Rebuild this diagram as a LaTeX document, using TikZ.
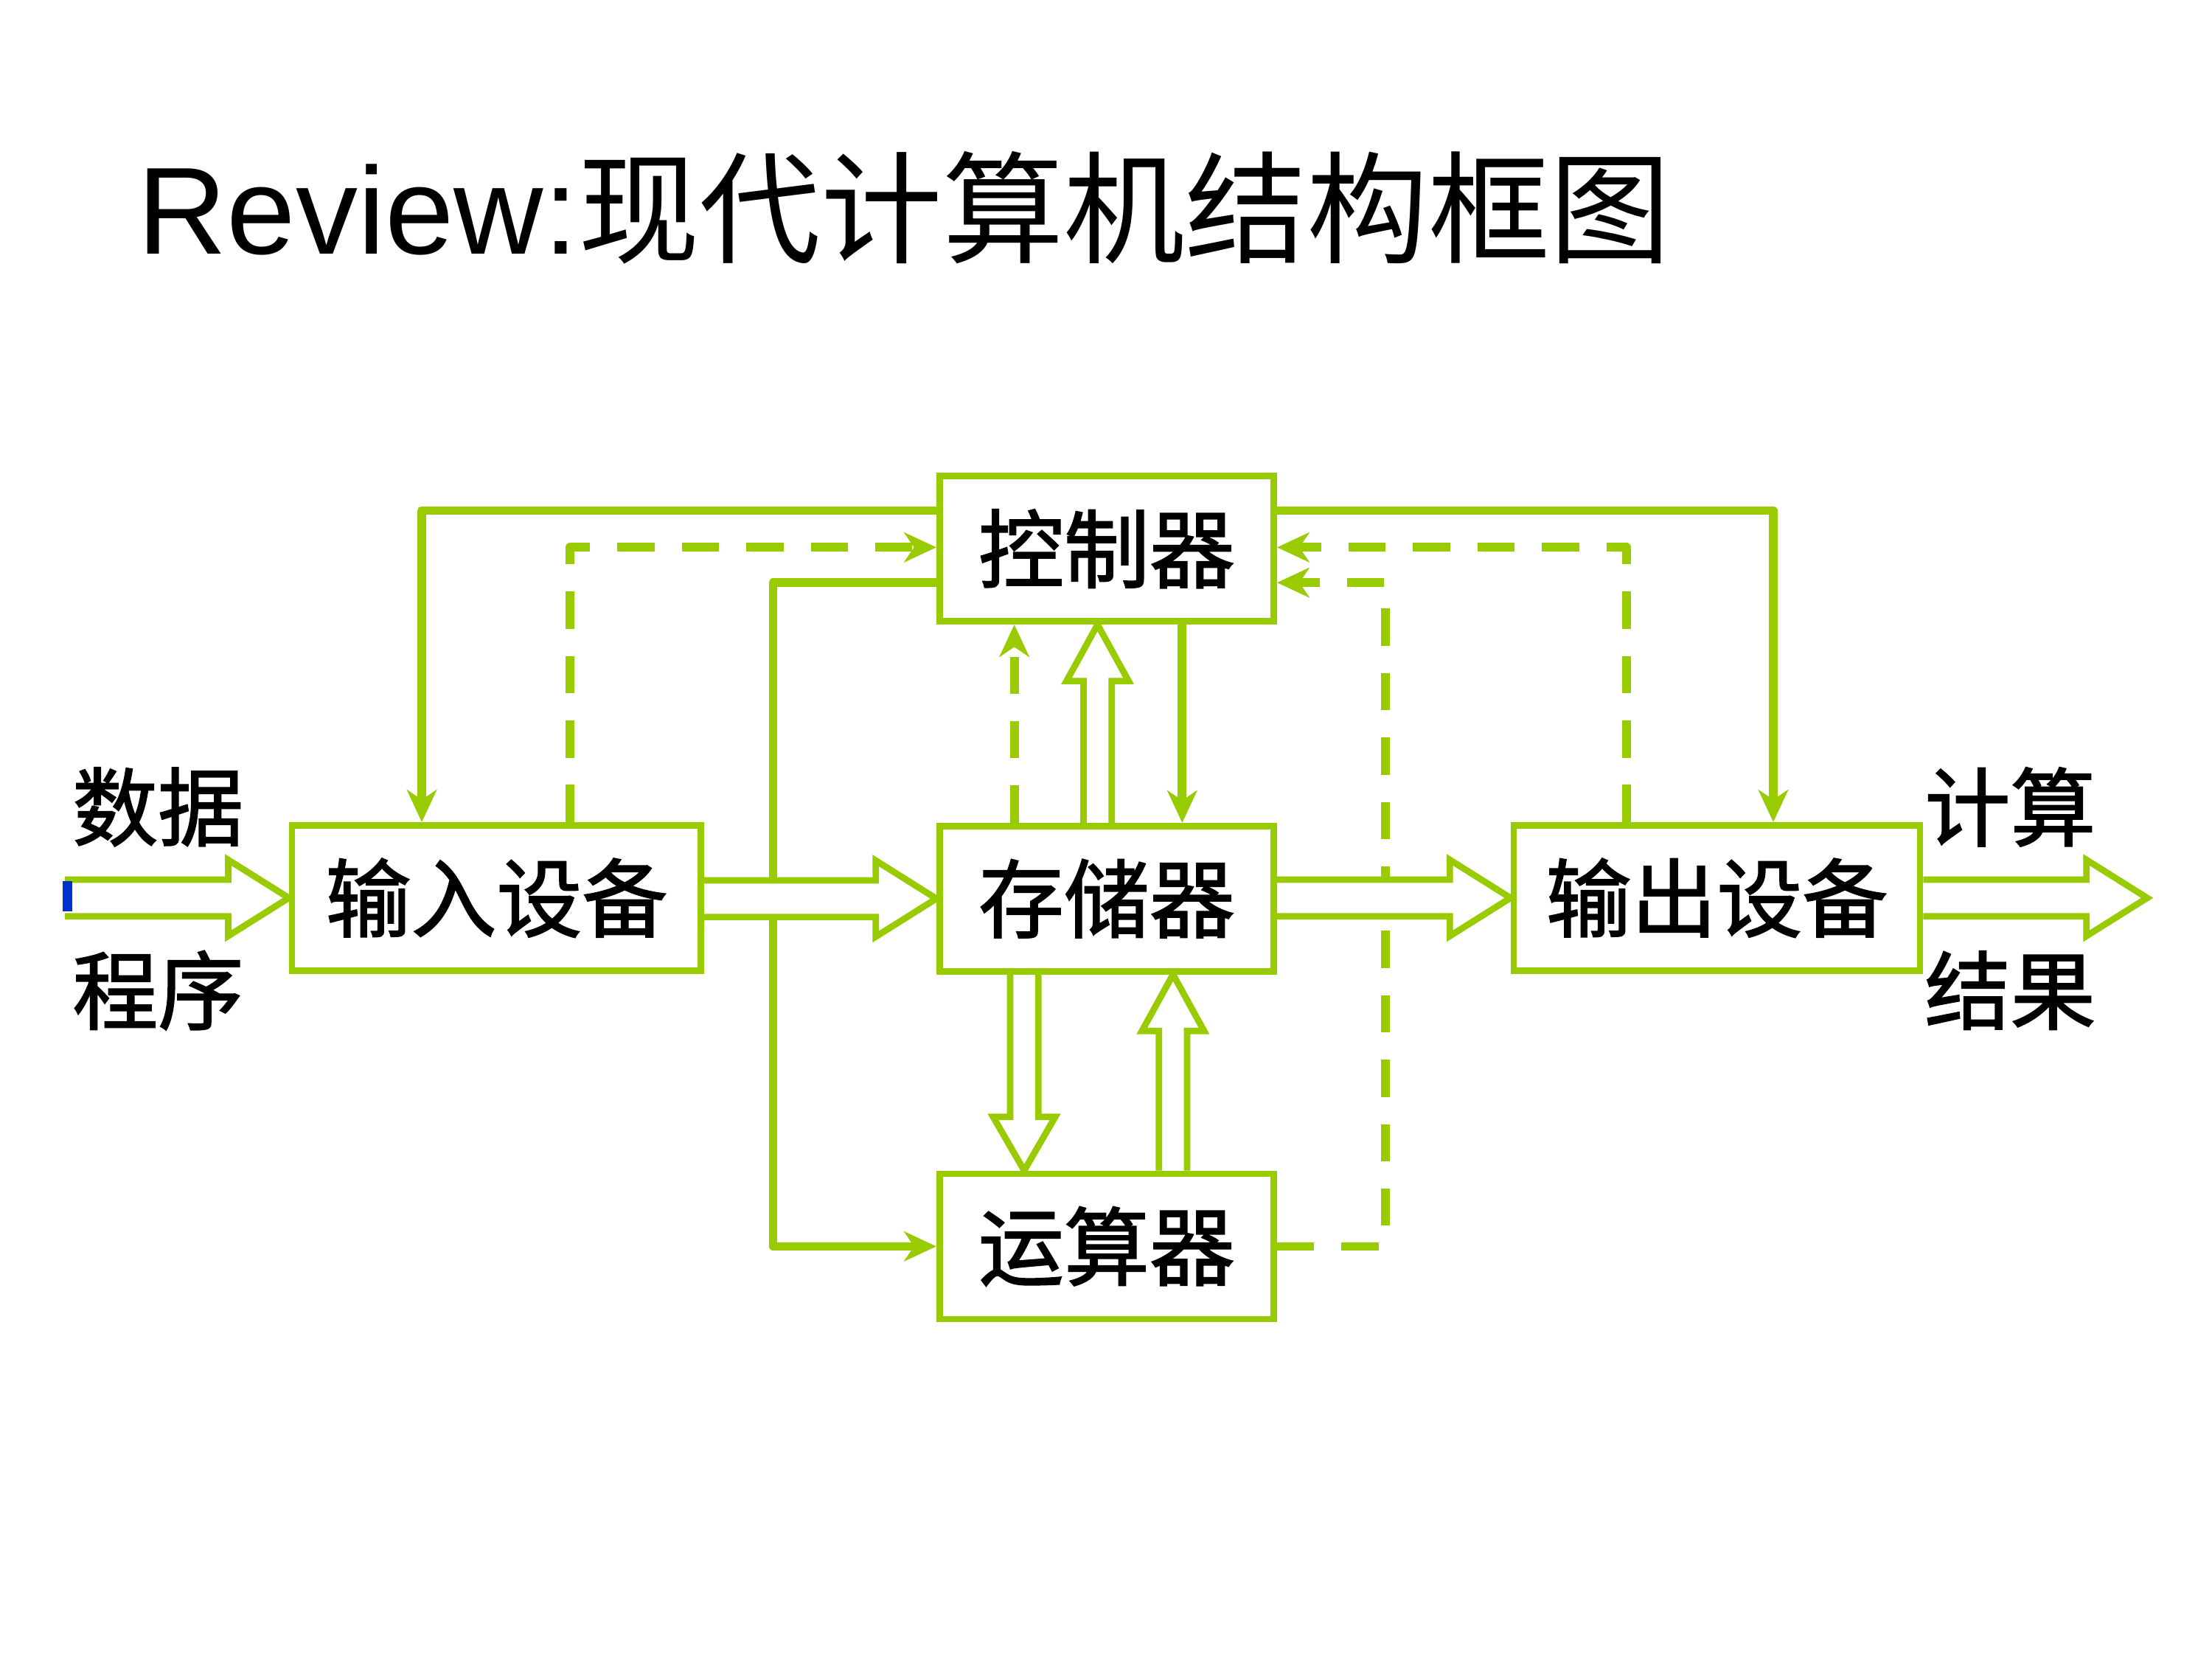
\documentclass[tikz,border=0pt]{standalone}
\usepackage{fontspec}
\newfontfamily\cjk{Noto Sans CJK SC}
\newfontfamily\cjkb[FakeBold=1.6]{Noto Sans CJK SC}
\newfontfamily\lat{Liberation Sans}
\usetikzlibrary{arrows.meta,calc,backgrounds}
\definecolor{grn}{RGB}{153,204,0}
\definecolor{blu}{RGB}{0,51,204}
\newcommand\blkR[2]{\path[blk] ($(#1 |- #2)+(0,-13)$) -- ($(#2)+(-43,-13)$) -- ($(#2)+(-43,-27)$) -- (#2) -- ($(#2)+(-43,27)$) -- ($(#2)+(-43,13)$) -- ($(#1 |- #2)+(0,13)$);}
\newcommand\blkU[2]{\path[blk] ($(#1)+(-10,0)$) -- ($(#2)+(-10,40)$) -- ($(#2)+(-22,40)$) -- (#2) -- ($(#2)+(22,40)$) -- ($(#2)+(10,40)$) -- ($(#1)+(10,0)$);}
\newcommand\blkD[2]{\path[blk] ($(#1)+(-10,0)$) -- ($(#2)+(-10,-38)$) -- ($(#2)+(-22,-38)$) -- (#2) -- ($(#2)+(22,-38)$) -- ($(#2)+(10,-38)$) -- ($(#1)+(10,0)$);}
\begin{document}
\begin{tikzpicture}[x=0.02cm,y=-0.02cm,
  box/.style={draw=grn,line width=2.6pt,inner sep=0pt,minimum height=2.06cm,
    font=\cjkb\fontsize{34.5}{34.5}\selectfont},
  lbl/.style={inner sep=0pt,font=\cjkb\fontsize{34.5}{34.5}\selectfont},
  conn/.style={draw=grn,line width=3.5pt,line join=round,
    -{Stealth[length=13pt,width=12pt,inset=4pt]}},
  dconn/.style={conn,dash pattern=on 15pt off 11pt},
  blk/.style={draw=grn,fill=white,line width=2.6pt,line join=miter}]
\useasboundingbox (0,0) rectangle (1568,1176);

% title
\node[anchor=base west,inner sep=0pt] (title) at (97,180)
  {{\lat\fontsize{50}{50}\selectfont Review:}{\cjk\fontsize{49}{49}\selectfont 现代计算机结构框图}};

% boxes
\node[box,minimum width=4.74cm] (ctrl) at (784.5,389) {控制器};
\node[box,minimum width=4.74cm] (mem) at (784.5,637) {存储器};
\node[box,minimum width=4.74cm] (alu) at (784.5,883.5) {运算器};
\node[box,minimum width=5.80cm] (in) at (352,636.5) {输入设备};
\node[box,minimum width=5.76cm] (out) at (1217,636.5) {输出设备};

% side labels
\node[lbl] (shuju) at (112,572) {数据};
\node[lbl] (chengxu) at (112,702) {程序};
\node[lbl] (jisuan) at (1425,572) {计算};
\node[lbl] (jieguo) at (1425,702) {结果};

\coordinate (src) at (46,636.5);
\coordinate (dst) at (1522,636.5);
\coordinate (vx1) at (548,650);
\coordinate (vx2) at (982,650);

\begin{pgfonlayer}{background}
\fill[white] (0,0) rectangle (1568,1176);
% thin connectors
\draw[conn] ($(ctrl.west)+(0,-27)$) -| ($(in.north)+(-53,0)$);
\draw[dconn] ($(in.north)+(52,0)$) |- ($(ctrl.west)+(0,-1)$);
\draw[conn] ($(ctrl.west)+(0,24)$) -| (vx1) |- (alu.west);
\draw[dconn] ($(mem.north)+(-65.5,0)$) -- ($(ctrl.south)+(-65.5,0)$);
\draw[conn] ($(ctrl.south)+(53.5,0)$) -- ($(mem.north)+(53.5,0)$);
\draw[dconn] ($(out.north)+(-64,0)$) |- ($(ctrl.east)+(0,-1)$);
\draw[dconn] (alu.east) -| (vx2) |- ($(ctrl.east)+(0,24)$);
\draw[conn] ($(ctrl.east)+(0,-27)$) -| ($(out.north)+(40,0)$);
% block arrows
\blkR{src}{in.west}
\blkR{in.east}{mem.west}
\blkR{mem.east}{out.west}
\blkR{out.east}{dst}
\blkU{$(mem.north)+(-6.5,0)$}{$(ctrl.south)+(-6.5,0)$}
\blkD{$(mem.south)+(-58.5,0)$}{$(alu.north)+(-58.5,0)$}
\blkU{$(alu.north)+(47,0)$}{$(mem.south)+(47,0)$}
\fill[blu] ($(src)+(-1.6,-12)$) rectangle ($(src)+(5.2,9.5)$);
\end{pgfonlayer}
\end{tikzpicture}
\end{document}
